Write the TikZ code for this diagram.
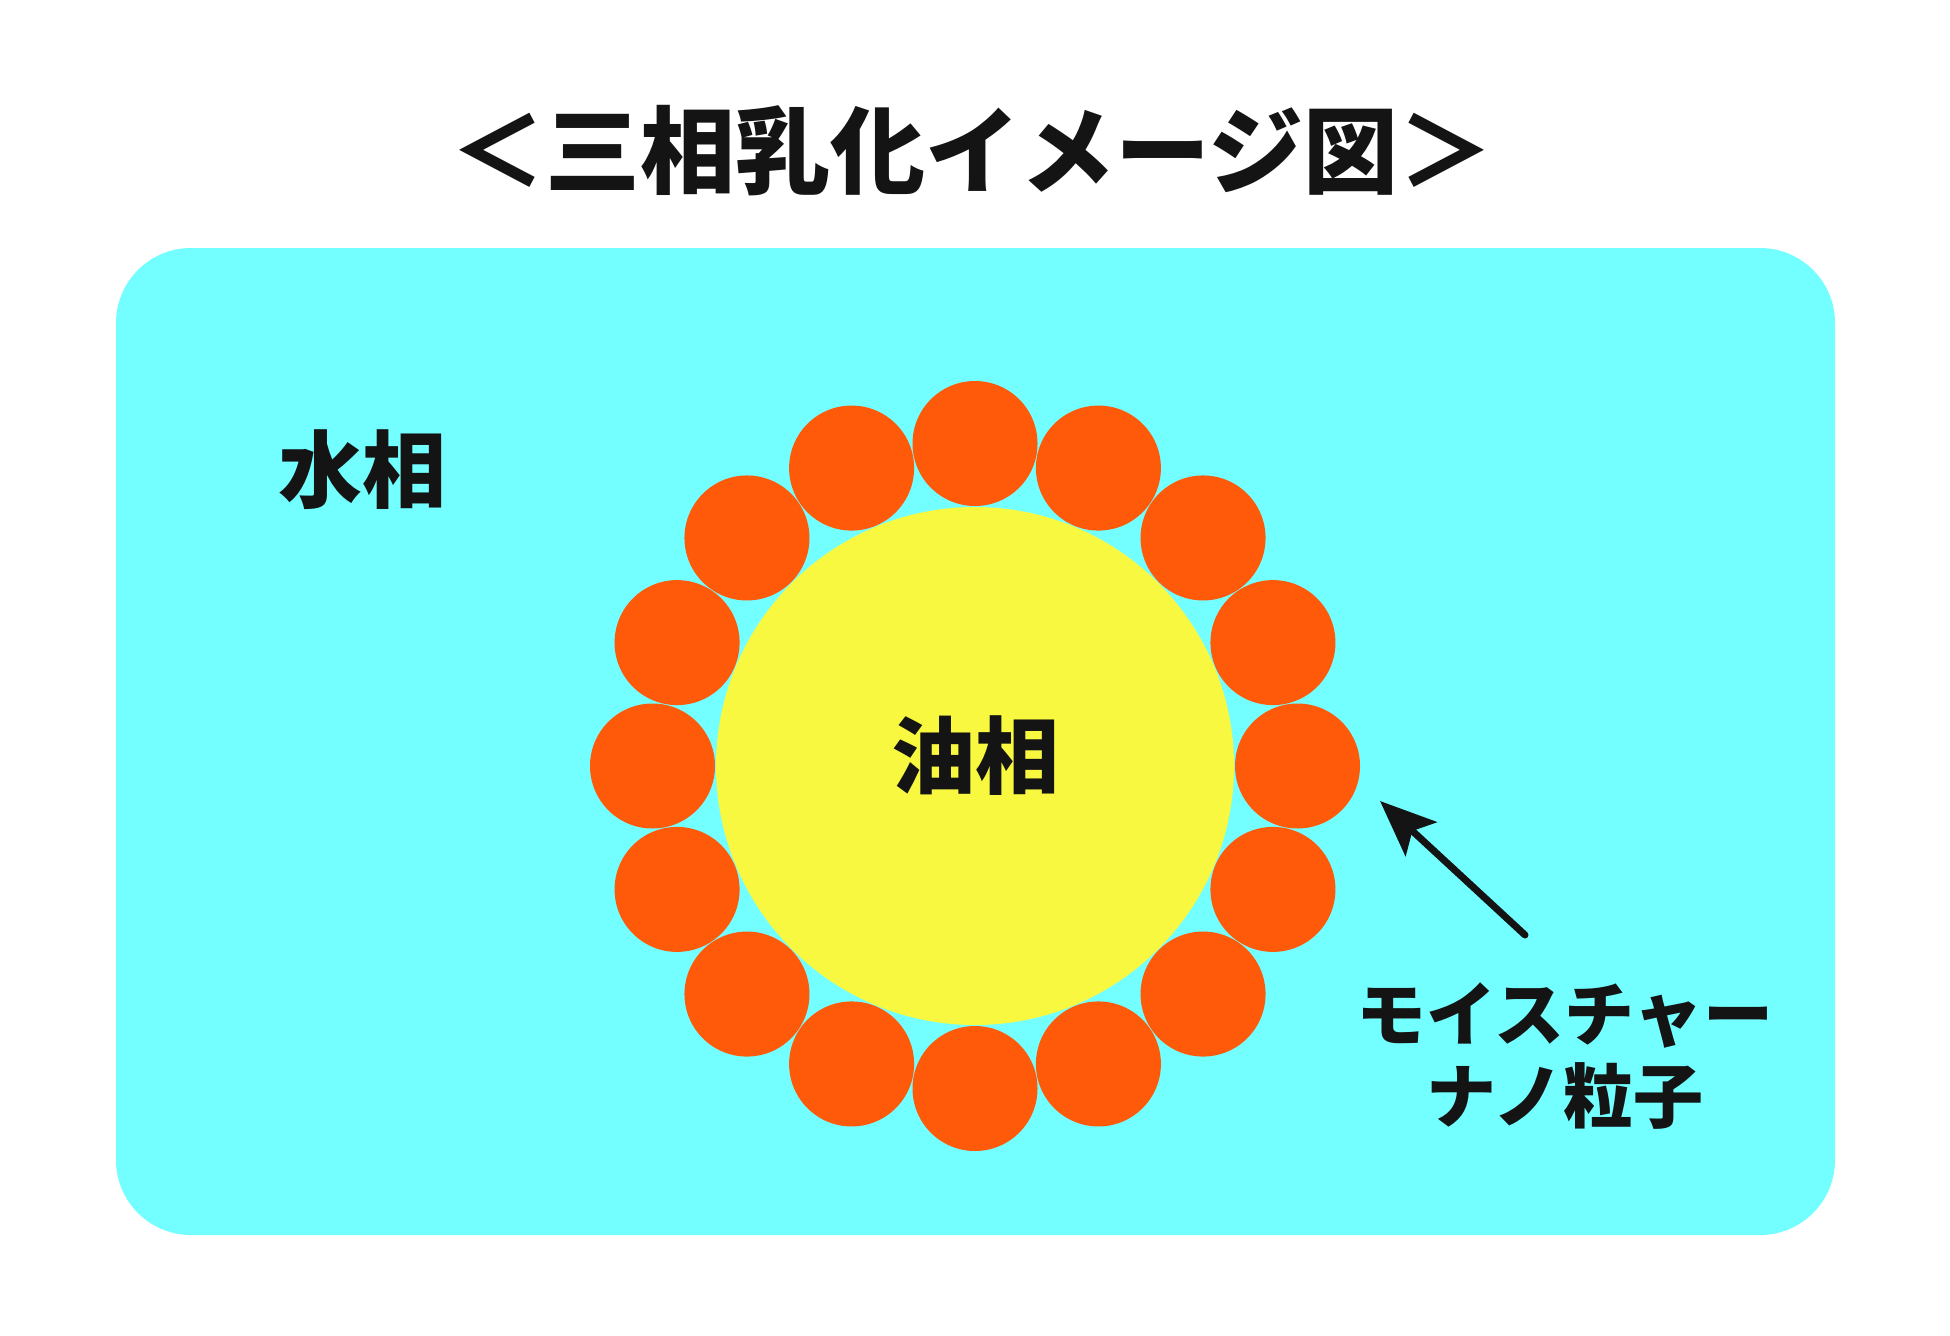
\documentclass[tikz,border=0pt]{standalone}
\usepackage{fontspec}
\usetikzlibrary{arrows.meta}
\newfontfamily\jp{Noto Sans CJK JP}
\definecolor{watercol}{RGB}{115,255,255}
\definecolor{oilcol}{RGB}{248,248,64}
\definecolor{nanocol}{RGB}{255,90,10}
\definecolor{inkcol}{RGB}{20,20,20}
\tikzset{
  jptext/.style={text=inkcol, inner sep=0pt, font=\jp\bfseries\fontsize{#1}{#1}\selectfont},
  nano/.style={circle, fill=nanocol, minimum size=125pt, inner sep=0pt},
  pointer/.style={draw=inkcol, line width=7pt, line cap=round,
    -{Stealth[length=56pt,width=46pt,inset=12pt]}},
}
\begin{document}
\begin{tikzpicture}[x=1pt,y=-1pt]
\useasboundingbox (0,0) rectangle (1950,1335);
\fill[white] (0,0) rectangle (1950,1335);
% water phase
\fill[watercol, rounded corners=75pt] (116,248) rectangle (1835,1235);
\coordinate (water) at (975,741);
% title
\node[jptext=95] (title) at (972,151) {＜三相乳化イメージ図＞};
% oil phase
\node[circle, fill=oilcol, minimum size=518pt, inner sep=0pt] (oil) at (975,766) {};
% nanoparticles
\foreach \i in {1,...,16}{
  \node[nano] (p\i) at ({975+322.5*sin(22.5*(\i-1))},{766-322.5*cos(22.5*(\i-1))}) {};
}
% labels
\node[jptext=84] (waterlbl) at (362,470) {水相};
\node[jptext=84] (oillbl) at (975,756) {油相};
\node[jptext=70] (nanolbl1) at (1565,1015) {モイスチャー};
\node[jptext=70] (nanolbl2) at (1565,1096) {ナノ粒子};
% arrow
\coordinate (arrtail) at (1525,935);
\coordinate (arrtip) at (1380,801);
\draw[pointer] (arrtail) -- (arrtip);
\end{tikzpicture}
\end{document}
